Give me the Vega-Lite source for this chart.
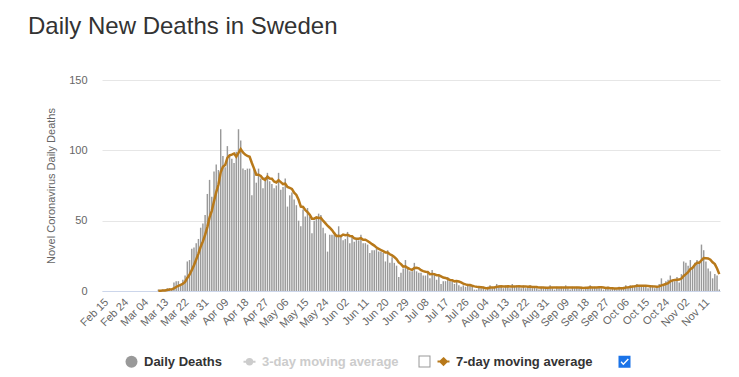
{
"$schema": "https://vega.github.io/schema/vega-lite/v6.json",
"width": 618,
"height": 211,
"autosize": {"type": "none"},
"padding": {"left": 102, "top": 80, "right": 19, "bottom": 86},
"background": "white",
"config": {"view": {"stroke": null}, "font": "Liberation Sans",
  "legend": {"title": null, "orient": "none", "legendY": 275, "direction": "horizontal", "columnPadding": 21,
    "symbolSize": 144, "labelOffset": 6, "labelFont": "Liberation Sans", "labelFontSize": 13, "labelFontWeight": "bold", "labelColor": "#333333", "symbolOpacity": 1}},
"title": {"text": "Daily New Deaths in Sweden", "anchor": "start", "frame": "group", "dx": -74, "offset": 35, "fontSize": 24, "font": "Liberation Sans", "fontWeight": "normal", "color": "#333333"},
"data": {"values": [
{"date":"2020-02-15","deaths":0},{"date":"2020-02-16","deaths":0},{"date":"2020-02-17","deaths":0},{"date":"2020-02-18","deaths":0},{"date":"2020-02-19","deaths":0},{"date":"2020-02-20","deaths":0},{"date":"2020-02-21","deaths":0},{"date":"2020-02-22","deaths":0},{"date":"2020-02-23","deaths":0},{"date":"2020-02-24","deaths":0},{"date":"2020-02-25","deaths":0},{"date":"2020-02-26","deaths":0},{"date":"2020-02-27","deaths":0},{"date":"2020-02-28","deaths":0},{"date":"2020-02-29","deaths":0},
{"date":"2020-03-01","deaths":0},{"date":"2020-03-02","deaths":0},{"date":"2020-03-03","deaths":0},{"date":"2020-03-04","deaths":0},{"date":"2020-03-05","deaths":0},{"date":"2020-03-06","deaths":0},{"date":"2020-03-07","deaths":0},{"date":"2020-03-08","deaths":0},{"date":"2020-03-09","deaths":0},{"date":"2020-03-10","deaths":0},{"date":"2020-03-11","deaths":1},{"date":"2020-03-12","deaths":0},{"date":"2020-03-13","deaths":1},{"date":"2020-03-14","deaths":1},{"date":"2020-03-15","deaths":2},{"date":"2020-03-16","deaths":2},{"date":"2020-03-17","deaths":1},{"date":"2020-03-18","deaths":6},{"date":"2020-03-19","deaths":7},{"date":"2020-03-20","deaths":7},{"date":"2020-03-21","deaths":5},{"date":"2020-03-22","deaths":8},{"date":"2020-03-23","deaths":11},{"date":"2020-03-24","deaths":21},{"date":"2020-03-25","deaths":22},{"date":"2020-03-26","deaths":30},{"date":"2020-03-27","deaths":31},{"date":"2020-03-28","deaths":34},{"date":"2020-03-29","deaths":37},{"date":"2020-03-30","deaths":45},{"date":"2020-03-31","deaths":48},
{"date":"2020-04-01","deaths":54},{"date":"2020-04-02","deaths":69},{"date":"2020-04-03","deaths":79},{"date":"2020-04-04","deaths":67},{"date":"2020-04-05","deaths":85},{"date":"2020-04-06","deaths":90},{"date":"2020-04-07","deaths":86},{"date":"2020-04-08","deaths":115},{"date":"2020-04-09","deaths":96},{"date":"2020-04-10","deaths":88},{"date":"2020-04-11","deaths":103},{"date":"2020-04-12","deaths":97},{"date":"2020-04-13","deaths":94},{"date":"2020-04-14","deaths":91},{"date":"2020-04-15","deaths":99},{"date":"2020-04-16","deaths":115},{"date":"2020-04-17","deaths":107},{"date":"2020-04-18","deaths":87},{"date":"2020-04-19","deaths":86},{"date":"2020-04-20","deaths":87},{"date":"2020-04-21","deaths":87},{"date":"2020-04-22","deaths":68},{"date":"2020-04-23","deaths":87},{"date":"2020-04-24","deaths":77},{"date":"2020-04-25","deaths":87},{"date":"2020-04-26","deaths":80},{"date":"2020-04-27","deaths":73},{"date":"2020-04-28","deaths":81},{"date":"2020-04-29","deaths":84},{"date":"2020-04-30","deaths":78},
{"date":"2020-05-01","deaths":76},{"date":"2020-05-02","deaths":73},{"date":"2020-05-03","deaths":75},{"date":"2020-05-04","deaths":84},{"date":"2020-05-05","deaths":72},{"date":"2020-05-06","deaths":74},{"date":"2020-05-07","deaths":80},{"date":"2020-05-08","deaths":60},{"date":"2020-05-09","deaths":68},{"date":"2020-05-10","deaths":70},{"date":"2020-05-11","deaths":65},{"date":"2020-05-12","deaths":61},{"date":"2020-05-13","deaths":50},{"date":"2020-05-14","deaths":46},{"date":"2020-05-15","deaths":58},{"date":"2020-05-16","deaths":53},{"date":"2020-05-17","deaths":59},{"date":"2020-05-18","deaths":53},{"date":"2020-05-19","deaths":41},{"date":"2020-05-20","deaths":50},{"date":"2020-05-21","deaths":52},{"date":"2020-05-22","deaths":55},{"date":"2020-05-23","deaths":54},{"date":"2020-05-24","deaths":45},{"date":"2020-05-25","deaths":41},{"date":"2020-05-26","deaths":28},{"date":"2020-05-27","deaths":40},{"date":"2020-05-28","deaths":40},{"date":"2020-05-29","deaths":40},{"date":"2020-05-30","deaths":40},{"date":"2020-05-31","deaths":46},
{"date":"2020-06-01","deaths":39},{"date":"2020-06-02","deaths":36},{"date":"2020-06-03","deaths":37},{"date":"2020-06-04","deaths":42},{"date":"2020-06-05","deaths":34},{"date":"2020-06-06","deaths":39},{"date":"2020-06-07","deaths":35},{"date":"2020-06-08","deaths":37},{"date":"2020-06-09","deaths":36},{"date":"2020-06-10","deaths":40},{"date":"2020-06-11","deaths":34},{"date":"2020-06-12","deaths":34},{"date":"2020-06-13","deaths":33},{"date":"2020-06-14","deaths":27},{"date":"2020-06-15","deaths":29},{"date":"2020-06-16","deaths":29},{"date":"2020-06-17","deaths":30},{"date":"2020-06-18","deaths":28},{"date":"2020-06-19","deaths":28},{"date":"2020-06-20","deaths":27},{"date":"2020-06-21","deaths":21},{"date":"2020-06-22","deaths":29},{"date":"2020-06-23","deaths":20},{"date":"2020-06-24","deaths":24},{"date":"2020-06-25","deaths":20},{"date":"2020-06-26","deaths":18},{"date":"2020-06-27","deaths":10},{"date":"2020-06-28","deaths":13},{"date":"2020-06-29","deaths":16},{"date":"2020-06-30","deaths":22},
{"date":"2020-07-01","deaths":16},{"date":"2020-07-02","deaths":14},{"date":"2020-07-03","deaths":14},{"date":"2020-07-04","deaths":20},{"date":"2020-07-05","deaths":14},{"date":"2020-07-06","deaths":13},{"date":"2020-07-07","deaths":13},{"date":"2020-07-08","deaths":11},{"date":"2020-07-09","deaths":11},{"date":"2020-07-10","deaths":13},{"date":"2020-07-11","deaths":9},{"date":"2020-07-12","deaths":15},{"date":"2020-07-13","deaths":12},{"date":"2020-07-14","deaths":8},{"date":"2020-07-15","deaths":11},{"date":"2020-07-16","deaths":5},{"date":"2020-07-17","deaths":7},{"date":"2020-07-18","deaths":7},{"date":"2020-07-19","deaths":10},{"date":"2020-07-20","deaths":7},{"date":"2020-07-21","deaths":7},{"date":"2020-07-22","deaths":5},{"date":"2020-07-23","deaths":7},{"date":"2020-07-24","deaths":4},{"date":"2020-07-25","deaths":3},{"date":"2020-07-26","deaths":4},{"date":"2020-07-27","deaths":3},{"date":"2020-07-28","deaths":4},{"date":"2020-07-29","deaths":5},{"date":"2020-07-30","deaths":3},{"date":"2020-07-31","deaths":1},
{"date":"2020-08-01","deaths":1},{"date":"2020-08-02","deaths":3},{"date":"2020-08-03","deaths":2},{"date":"2020-08-04","deaths":3},{"date":"2020-08-05","deaths":1},{"date":"2020-08-06","deaths":3},{"date":"2020-08-07","deaths":4},{"date":"2020-08-08","deaths":2},{"date":"2020-08-09","deaths":3},{"date":"2020-08-10","deaths":5},{"date":"2020-08-11","deaths":4},{"date":"2020-08-12","deaths":3},{"date":"2020-08-13","deaths":2},{"date":"2020-08-14","deaths":4},{"date":"2020-08-15","deaths":3},{"date":"2020-08-16","deaths":2},{"date":"2020-08-17","deaths":5},{"date":"2020-08-18","deaths":3},{"date":"2020-08-19","deaths":4},{"date":"2020-08-20","deaths":3},{"date":"2020-08-21","deaths":2},{"date":"2020-08-22","deaths":4},{"date":"2020-08-23","deaths":2},{"date":"2020-08-24","deaths":3},{"date":"2020-08-25","deaths":4},{"date":"2020-08-26","deaths":2},{"date":"2020-08-27","deaths":3},{"date":"2020-08-28","deaths":2},{"date":"2020-08-29","deaths":1},{"date":"2020-08-30","deaths":3},{"date":"2020-08-31","deaths":2},
{"date":"2020-09-01","deaths":3},{"date":"2020-09-02","deaths":2},{"date":"2020-09-03","deaths":4},{"date":"2020-09-04","deaths":2},{"date":"2020-09-05","deaths":1},{"date":"2020-09-06","deaths":3},{"date":"2020-09-07","deaths":2},{"date":"2020-09-08","deaths":3},{"date":"2020-09-09","deaths":2},{"date":"2020-09-10","deaths":4},{"date":"2020-09-11","deaths":2},{"date":"2020-09-12","deaths":1},{"date":"2020-09-13","deaths":3},{"date":"2020-09-14","deaths":2},{"date":"2020-09-15","deaths":3},{"date":"2020-09-16","deaths":2},{"date":"2020-09-17","deaths":3},{"date":"2020-09-18","deaths":1},{"date":"2020-09-19","deaths":2},{"date":"2020-09-20","deaths":3},{"date":"2020-09-21","deaths":4},{"date":"2020-09-22","deaths":2},{"date":"2020-09-23","deaths":3},{"date":"2020-09-24","deaths":2},{"date":"2020-09-25","deaths":3},{"date":"2020-09-26","deaths":2},{"date":"2020-09-27","deaths":1},{"date":"2020-09-28","deaths":2},{"date":"2020-09-29","deaths":3},{"date":"2020-09-30","deaths":1},
{"date":"2020-10-01","deaths":2},{"date":"2020-10-02","deaths":2},{"date":"2020-10-03","deaths":1},{"date":"2020-10-04","deaths":3},{"date":"2020-10-05","deaths":2},{"date":"2020-10-06","deaths":3},{"date":"2020-10-07","deaths":4},{"date":"2020-10-08","deaths":3},{"date":"2020-10-09","deaths":4},{"date":"2020-10-10","deaths":3},{"date":"2020-10-11","deaths":4},{"date":"2020-10-12","deaths":5},{"date":"2020-10-13","deaths":3},{"date":"2020-10-14","deaths":4},{"date":"2020-10-15","deaths":3},{"date":"2020-10-16","deaths":4},{"date":"2020-10-17","deaths":2},{"date":"2020-10-18","deaths":3},{"date":"2020-10-19","deaths":4},{"date":"2020-10-20","deaths":2},{"date":"2020-10-21","deaths":3},{"date":"2020-10-22","deaths":5},{"date":"2020-10-23","deaths":9},{"date":"2020-10-24","deaths":5},{"date":"2020-10-25","deaths":7},{"date":"2020-10-26","deaths":8},{"date":"2020-10-27","deaths":11},{"date":"2020-10-28","deaths":8},{"date":"2020-10-29","deaths":7},{"date":"2020-10-30","deaths":10},{"date":"2020-10-31","deaths":6},
{"date":"2020-11-01","deaths":12},{"date":"2020-11-02","deaths":21},{"date":"2020-11-03","deaths":20},{"date":"2020-11-04","deaths":18},{"date":"2020-11-05","deaths":22},{"date":"2020-11-06","deaths":17},{"date":"2020-11-07","deaths":20},{"date":"2020-11-08","deaths":22},{"date":"2020-11-09","deaths":21},{"date":"2020-11-10","deaths":33},{"date":"2020-11-11","deaths":29},{"date":"2020-11-12","deaths":21},{"date":"2020-11-13","deaths":16},{"date":"2020-11-14","deaths":14},{"date":"2020-11-15","deaths":9},{"date":"2020-11-16","deaths":12},{"date":"2020-11-17","deaths":11},{"date":"2020-11-18","deaths":1}
]},
"encoding": {
  "x": {"field": "date", "type": "ordinal",
    "scale": {"paddingInner": 0.35, "paddingOuter": 0},
    "axis": {"title": null, "values": ["2020-02-15","2020-02-24","2020-03-04","2020-03-13","2020-03-22","2020-03-31","2020-04-09","2020-04-18","2020-04-27","2020-05-06","2020-05-15","2020-05-24","2020-06-02","2020-06-11","2020-06-20","2020-06-29","2020-07-08","2020-07-17","2020-07-26","2020-08-04","2020-08-13","2020-08-22","2020-08-31","2020-09-09","2020-09-18","2020-09-27","2020-10-06","2020-10-15","2020-10-24","2020-11-02","2020-11-11"],
      "labelExpr": "utcFormat(toDate(datum.value), '%b %d')",
      "labelAngle": -45, "labelColor": "#666666", "labelFontSize": 11, "labelFont": "Liberation Sans",
      "ticks": false, "labelPadding": 5, "domainColor": "#ccd6eb", "domainWidth": 1, "grid": false}}
},
"layer": [
  {"mark": {"type": "bar"},
   "encoding": {
     "y": {"field": "deaths", "type": "quantitative", "scale": {"domain": [0, 150], "nice": false},
       "axis": {"values": [0, 50, 100, 150], "title": "Novel Coronavirus Daily Deaths", "titleFont": "Liberation Sans", "titleFontSize": 11, "titleFontWeight": "normal", "titleColor": "#666666", "titlePadding": 12,
         "labelColor": "#666666", "labelFontSize": 11, "labelFont": "Liberation Sans", "labelPadding": 15, "domain": false, "ticks": false, "gridColor": "#e6e6e6"}},
     "color": {"datum": "Daily Deaths", "type": "nominal",
       "scale": {"domain": ["Daily Deaths", "3-day moving average"], "range": ["#999999", "#cccccc"]},
       "legend": {"legendX": 23, "columnPadding": 16,
         "symbolType": {"expr": "datum.value === 'Daily Deaths' ? 'circle' : 'M-1,0L1,0M-0.45,0A0.45,0.45 0 1,0 0.45,0A0.45,0.45 0 1,0 -0.45,0Z'"},
         "symbolFillColor": {"expr": "datum.value === 'Daily Deaths' ? '#999999' : '#cccccc'"},
         "symbolStrokeColor": {"expr": "datum.value === 'Daily Deaths' ? '#999999' : '#cccccc'"},
         "symbolStrokeWidth": {"expr": "datum.value === 'Daily Deaths' ? 0 : 2"},
         "labelColor": {"expr": "datum.value === '3-day moving average' ? '#cccccc' : '#333333'"}
       }},
     "opacity": {"datum": "unchecked", "type": "ordinal",
       "scale": {"domain": ["unchecked"], "range": [1]},
       "legend": {"legendX": 316, "labelExpr": "''",
         "symbolType": "M-1,-1L1,-1L1,1L-1,1ZM-0.83,-0.83L-0.83,0.83L0.83,0.83L0.83,-0.83Z",
         "symbolFillColor": "#767676", "symbolStrokeColor": "#767676", "symbolStrokeWidth": 0}}
   }},
  {"transform": [
     {"window": [{"op": "mean", "field": "deaths", "as": "ma7"}], "frame": [-6, 0], "sort": [{"field": "date"}]},
     {"filter": "datum.date >= '2020-03-11'"}
   ],
   "mark": {"type": "line", "strokeWidth": 2.5, "interpolate": "linear"},
   "encoding": {
     "y": {"field": "ma7", "type": "quantitative", "scale": {"domain": [0, 150], "nice": false}},
     "stroke": {"datum": "7-day moving average", "type": "nominal",
       "scale": {"domain": ["7-day moving average", "checked"], "range": ["#b8791a", "#1a73e8"]},
       "legend": {"legendX": 335, "columnPadding": 25,
         "labelExpr": "datum.label === 'checked' ? '' : datum.label",
         "symbolType": {"expr": "datum.value === 'checked' ? 'M-1,-1L1,-1L1,1L-1,1ZM-0.65,0.1L-0.2,0.6L0.72,-0.38L0.55,-0.55L-0.2,0.25L-0.48,-0.07Z' : 'M-1,0L1,0M0,-0.55L0.55,0L0,0.55L-0.55,0Z'"},
         "symbolFillColor": {"expr": "datum.value === 'checked' ? '#1a73e8' : '#b8791a'"},
         "symbolStrokeColor": {"expr": "datum.value === 'checked' ? '#1a73e8' : '#b8791a'"},
         "symbolStrokeWidth": {"expr": "datum.value === 'checked' ? 0 : 2"}
       }}
   }}
]
}
